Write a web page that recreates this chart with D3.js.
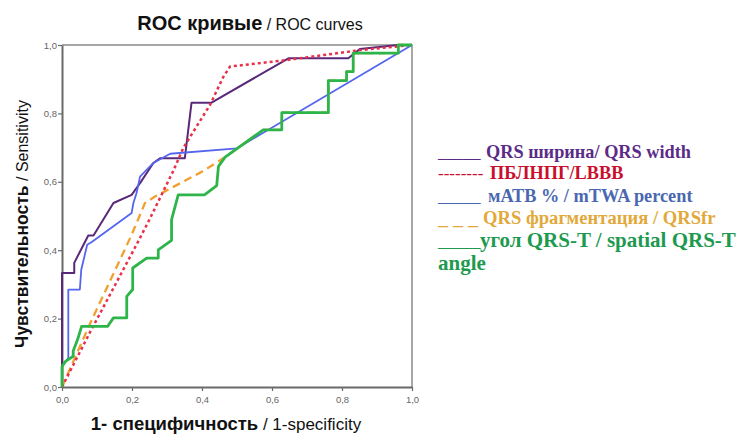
<!DOCTYPE html>
<html>
<head>
<meta charset="utf-8">
<script src="https://cdn.jsdelivr.net/npm/d3@7"></script>
<style>
  body { margin: 0; background: #fff; }
  svg { display: block; }
</style>
</head>
<body>
<svg id="chart" width="744" height="434"></svg>
<script>
// ROC points [1-specificity, sensitivity]
var qrsWidth = [[0,0],[0,0.333],[0.035,0.333],[0.035,0.363],[0.075,0.443],[0.09,0.443],[0.147,0.538],
  [0.199,0.562],[0.223,0.596],[0.261,0.655],[0.28,0.669],[0.351,0.669],[0.37,0.831],[0.426,0.831],
  [0.647,0.961],[0.818,0.961],[0.851,0.988],[0.96,1],[1,1]];
var lbbb = [[0,0],[0.08,0.16],[0.22,0.43],[0.25,0.49],[0.318,0.632],[0.347,0.70],[0.423,0.825],
  [0.46,0.905],[0.48,0.937],[0.642,0.956],[0.851,0.985],[1,1]];
var mtwa = [[0,0],[0,0.06],[0.018,0.085],[0.018,0.285],[0.051,0.285],[0.055,0.343],[0.072,0.416],
  [0.085,0.424],[0.199,0.509],[0.204,0.538],[0.213,0.567],[0.223,0.615],[0.261,0.655],[0.309,0.682],
  [0.5,0.698],[1,1]];
// upper part hidden under the green curve
var qrsFr = [[0,0],[0.08,0.185],[0.199,0.445],[0.237,0.538],[0.266,0.557],[0.294,0.572],[0.404,0.632],
  [0.466,0.672],[0.575,0.752],[0.628,0.752],[0.628,0.802],[0.761,0.802],[0.761,0.896],[0.813,0.896],
  [0.813,0.922],[0.832,0.922],[0.832,0.976],[0.961,0.976],[0.961,1],[1,1]];
var qrstAngle = [[0,0],[0,0.06],[0.01,0.075],[0.032,0.09],[0.032,0.105],[0.045,0.14],[0.056,0.177],
  [0.13,0.177],[0.147,0.202],[0.185,0.202],[0.185,0.265],[0.202,0.285],[0.202,0.348],[0.242,0.377],
  [0.275,0.377],[0.275,0.401],[0.313,0.429],[0.313,0.489],[0.332,0.562],[0.407,0.562],[0.442,0.589],
  [0.447,0.645],[0.466,0.672],[0.575,0.752],[0.628,0.752],[0.628,0.802],[0.761,0.802],[0.761,0.896],
  [0.813,0.896],[0.813,0.922],[0.832,0.922],[0.832,0.976],[0.961,0.976],[0.961,1],[1,1]];

var tickValues = [0, 0.2, 0.4, 0.6, 0.8, 1.0];
var legendLabels = ["QRS ширина/ QRS width", "ПБЛНПГ/LBBB", "мАТВ % / mTWA percent",
  "QRS фрагментация / QRSfr", "угол QRS-T / spatial QRS-T"];
var legendMarks = ["_____", "--------", "_____", "_ _ _", "_____"];

// drawing order: orange first so its tail stays under the green one
var series = [
  {data: qrsFr,     color: "#f0a030", width: 2.3, dash: "8,5"},
  {data: qrsWidth,  color: "#5a2878", width: 2,   dash: null},
  {data: lbbb,      color: "#e8304a", width: 2.5, dash: "3,3"},
  {data: mtwa,      color: "#5566ee", width: 1.8, dash: null},
  {data: qrstAngle, color: "#2db54a", width: 2.8, dash: null}
];
var legendColors = ["#5b2c87", "#c8102e", "#4a68b0", "#e2a93a", "#1e9a50"];
var legendSizes = [18.3, 18.3, 18.3, 18.6, 21];
var markSizes = [17, 17, 17, 20, 17];

var svg = d3.select("#chart");
var sans = "'Liberation Sans', Arial, sans-serif";

var x = d3.scaleLinear().domain([0, 1]).range([62, 412]);
var y = d3.scaleLinear().domain([0, 1]).range([387, 45]);

var fmt = function(d) { return d3.format(".1f")(d).replace(".", ","); };

// frame (top and right)
svg.append("path")
  .attr("d", "M" + x(0) + "," + y(1) + "H" + x(1) + "V" + y(0))
  .attr("fill", "none")
  .attr("stroke", "#8a8a8a")
  .attr("stroke-width", 1.5);

var xAxis = svg.append("g")
  .attr("transform", "translate(0," + y(0) + ")")
  .call(d3.axisBottom(x).tickValues(tickValues).tickFormat(fmt).tickSize(4).tickSizeOuter(0));
var yAxis = svg.append("g")
  .attr("transform", "translate(" + x(0) + ",0)")
  .call(d3.axisLeft(y).tickValues(tickValues).tickFormat(fmt).tickSize(4).tickSizeOuter(0));

[xAxis, yAxis].forEach(function(ax) {
  ax.select(".domain").attr("stroke", "#6a6a6a").attr("stroke-width", 2);
  ax.selectAll(".tick line").attr("stroke", "#6a6a6a").attr("stroke-width", 1.2);
  ax.selectAll(".tick text")
    .attr("fill", "#666")
    .style("font-family", sans)
    .style("font-size", "9.5px");
});
xAxis.selectAll(".tick text").attr("dy", "0.9em");
yAxis.selectAll(".tick text").attr("x", -5);

var line = d3.line()
  .x(function(d) { return x(d[0]); })
  .y(function(d) { return y(d[1]); });

svg.append("g").selectAll("path")
  .data(series)
  .enter()
  .append("path")
    .attr("d", function(s) { return line(s.data); })
    .attr("fill", "none")
    .attr("stroke", function(s) { return s.color; })
    .attr("stroke-width", function(s) { return s.width; })
    .attr("stroke-dasharray", function(s) { return s.dash; })
    .attr("stroke-linejoin", "round");

// title
var title = svg.append("text")
  .attr("x", 250).attr("y", 30)
  .attr("text-anchor", "middle")
  .style("font-family", sans)
  .attr("fill", "#111");
title.append("tspan").text("ROC кривые").style("font-weight", "bold").style("font-size", "20px");
title.append("tspan").text(" / ROC curves").style("font-size", "16px");

// axis titles
var xTitle = svg.append("text")
  .attr("x", 226).attr("y", 430)
  .attr("text-anchor", "middle")
  .style("font-family", sans)
  .attr("fill", "#111");
xTitle.append("tspan").text("1- специфичность").style("font-weight", "bold").style("font-size", "18.5px");
xTitle.append("tspan").text("  / 1-specificity").style("font-size", "17px");

var yTitle = svg.append("text")
  .attr("transform", "translate(28,224) rotate(-90)")
  .attr("text-anchor", "middle")
  .style("font-family", sans)
  .attr("fill", "#111");
yTitle.append("tspan").text("Чувствительность").style("font-weight", "bold").style("font-size", "17.5px");
yTitle.append("tspan").text("  / Sensitivity").style("font-size", "16px");

// legend
var legendY = [158, 179, 202, 224, 247];
var legendX = [486, 490, 488, 483, 480];
var legend = svg.append("g")
  .style("font-family", "'Liberation Serif', 'Times New Roman', serif")
  .style("font-weight", "bold");
legend.selectAll("text.mark")
  .data(legendMarks)
  .enter()
  .append("text")
    .attr("class", "mark")
    .attr("x", 438)
    .attr("y", function(d, i) { return legendY[i]; })
    .attr("fill", function(d, i) { return legendColors[i]; })
    .style("font-size", function(d, i) { return markSizes[i] + "px"; })
    .style("font-weight", "normal")
    .text(function(d) { return d; });
legend.selectAll("text.label")
  .data(legendLabels)
  .enter()
  .append("text")
    .attr("class", "label")
    .attr("x", function(d, i) { return legendX[i]; })
    .attr("y", function(d, i) { return legendY[i]; })
    .attr("fill", function(d, i) { return legendColors[i]; })
    .style("font-size", function(d, i) { return legendSizes[i] + "px"; })
    .text(function(d) { return d; });
legend.append("text")
  .attr("x", 438).attr("y", 270)
  .attr("fill", legendColors[4])
  .style("font-size", "21px")
  .text("angle");
</script>
</body>
</html>
